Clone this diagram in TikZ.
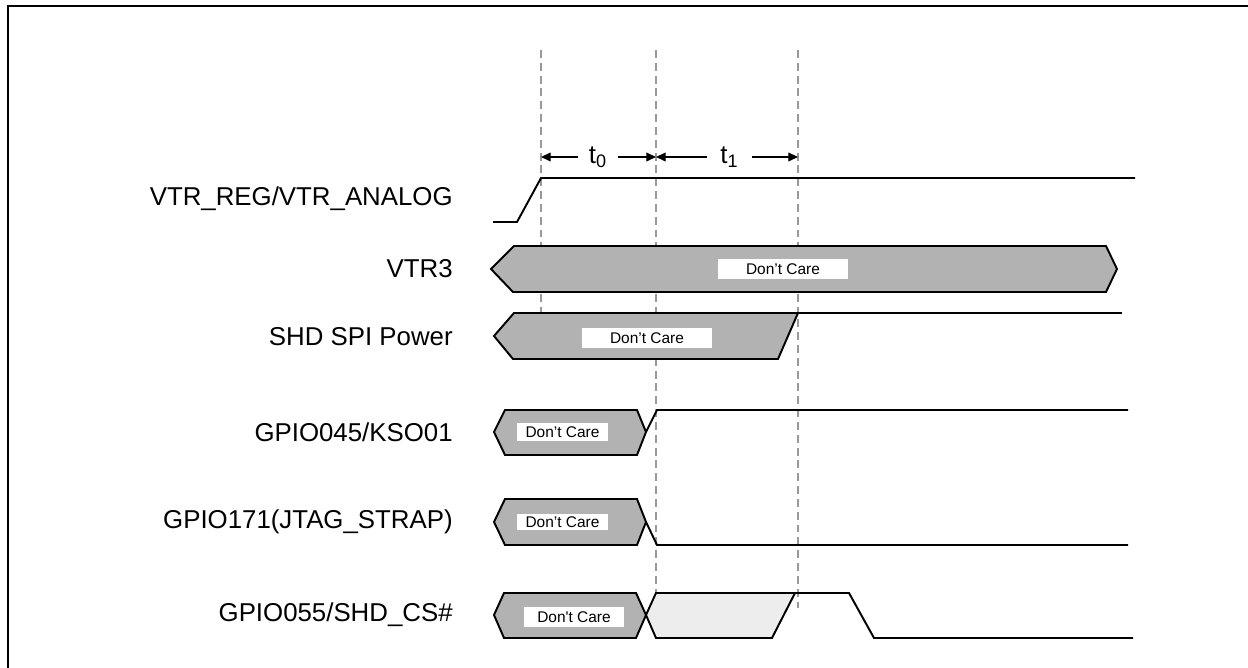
\documentclass[tikz,border=0pt]{standalone}
\usepackage{fontspec}
\setmainfont{Liberation Sans}
\usetikzlibrary{arrows.meta}

\begin{document}
\begin{tikzpicture}[x=0.02cm, y=-0.02cm]

        \tikzset{every node/.style={inner sep=0pt, font=\fontsize{14.7}{17}\selectfont}}
        \tikzset{caretext/.style={fill=white, font=\fontsize{8.8}{10}\selectfont, minimum height=0.4cm}}
        \tikzset{bus/.style={draw=black, line width=1.1pt, fill=black!30}}
        \tikzset{quiet/.style={draw=black, line width=1.1pt, fill=black!7}}
        \tikzset{signal/.style={draw=black, line width=1.1pt}}
        \tikzset{guide/.style={draw=black!40, line width=1.1pt, dash pattern=on 4.5pt off 2.8pt}}
        \tikzset{span/.style={-{Triangle[length=5.5pt, width=5pt]}, line width=0.7pt}}

        \useasboundingbox (0,0) rectangle (1248,668);

        % frame, only its top and left edges show
        \draw[line width=1.4pt] (8,668) -- (8,6) -- (1248,6);

        % dashed guides, drawn first so the buses hide them
        \draw[guide] (541,50) -- (541,355);
        \draw[guide] (656,50) -- (656,593);
        \draw[guide] (798,50) -- (798,608);

        % signal names, right aligned
        \node[anchor=east] at (453,199) (vtrreg) {VTR\_REG/VTR\_ANALOG};
        \node[anchor=east] at (453,269) (vtr3) {VTR3};
        \node[anchor=east] at (453,337) (shdspi) {SHD SPI Power};
        \node[anchor=east] at (453,432) (kso) {GPIO045/KSO01};
        \node[anchor=east] at (453,522) (jtag) {GPIO171(JTAG\_STRAP)};
        \node[anchor=east] at (453,615) (shdcs) {GPIO055/SHD\_CS\#};

        % timing marks t0 and t1
        \coordinate (m0) at (541,157);
        \coordinate (m1) at (656,157);
        \coordinate (m2) at (798,157);
        \node[minimum width=0.8cm] at (598,157) (t0) {t\textsubscript{0}};
        \node[minimum width=0.9cm] at (729.5,157) (t1) {t\textsubscript{1}};

        \draw[span] (t0) -- (m0);
        \draw[span] (t0) -- (m1);
        \draw[span] (t1) -- (m1);
        \draw[span] (t1) -- (m2);

        % VTR_REG/VTR_ANALOG
        \draw[signal] (493,222) -- (517,222) -- (541,178) -- (1135,178);

        % VTR3
        \draw[bus] (491,269) -- (514,246) -- (1106,246) -- (1117,269) -- (1106,292) -- (513,292) -- cycle;
        \node[caretext, minimum width=2.6cm] at (783,269) (care1) {Don’t Care};

        % SHD SPI Power
        \draw[bus] (494,336) -- (514,313) -- (798,313) -- (778,359) -- (513,359) -- cycle;
        \draw[signal] (798,313) -- (1122,313);
        \node[caretext, minimum width=2.6cm] at (647,338) (care2) {Don’t Care};

        % GPIO045/KSO01
        \draw[bus] (494,432) -- (505,410) -- (637,410) -- (646,432) -- (637,455) -- (505,455) -- cycle;
        \draw[signal] (646,432) -- (657,410) -- (1128,410);
        \node[caretext, minimum width=1.82cm, minimum height=0.36cm] at (562.5,432) (care3) {Don’t Care};

        % GPIO171(JTAG_STRAP)
        \draw[bus] (494,522) -- (505,499) -- (637,499) -- (646,522) -- (637,545) -- (505,545) -- cycle;
        \draw[signal] (646,522) -- (657,545) -- (1128,545);
        \node[caretext, minimum width=1.82cm, minimum height=0.32cm] at (562.5,522) (care4) {Don’t Care};

        % GPIO055/SHD_CS#
        \draw[bus] (494,615) -- (504,593) -- (636,593) -- (646,615) -- (636,638) -- (504,638) -- cycle;
        \draw[quiet] (646,615) -- (656,593) -- (795,593) -- (772,638) -- (656,638) -- cycle;
        \draw[signal] (795,593) -- (849,593) -- (874,638) -- (1133,638);
        \node[caretext, minimum width=2cm] at (574,617) (care5) {Don\textquotesingle t Care};

    \end{tikzpicture}
\end{document}
